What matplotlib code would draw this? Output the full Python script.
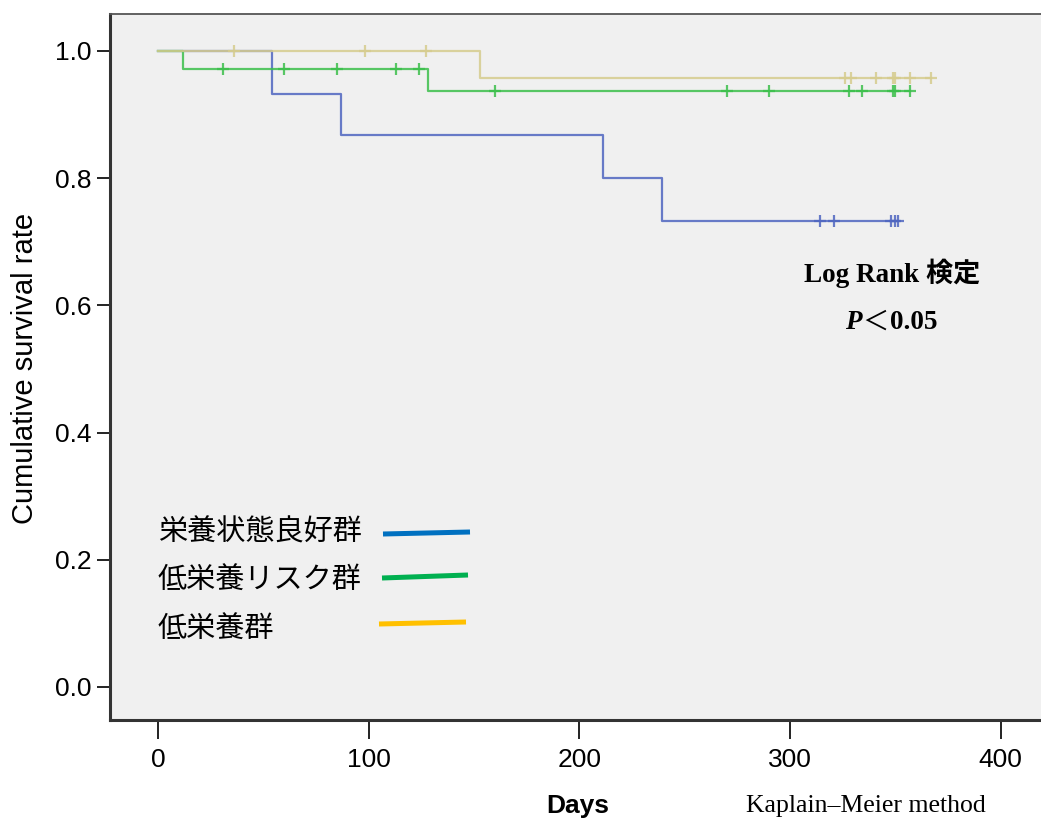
import matplotlib
matplotlib.use("Agg")
import matplotlib.pyplot as plt
import numpy as np
from matplotlib.lines import Line2D

plt.rcParams["font.family"] = ["Liberation Sans", "DejaVu Sans"]

W, H = 1041, 825

# Kaplan-Meier step data (days, survival)
good_times = [0, 54, 87, 211, 239]
good_surv = [1.0, 0.933, 0.867, 0.800, 0.733]
good_censor = [314, 321, 348, 350, 351]
good_end = 351

risk_times = [0, 12, 128]
risk_surv = [1.0, 0.971, 0.937]
risk_censor = [31, 60, 85, 113, 124, 160, 270, 290, 328, 334, 349, 350, 357]
risk_end = 357

low_times = [0, 153]
low_surv = [1.0, 0.958]
low_censor = [36, 98, 127, 326, 329, 341, 349, 350, 357, 367]
low_end = 367

group_labels = ["栄養状態良好群", "低栄養リスク群", "低栄養群"]
x_ticks = [0, 100, 200, 300, 400]
y_ticks = [0.0, 0.2, 0.4, 0.6, 0.8, 1.0]


def px(x, y):
    # pixel position (from top-left) -> figure fraction
    return x / W, 1 - y / H


def draw_km(ax, times, surv, censor, end, color):
    xs = list(times) + [end]
    ys = list(surv) + [surv[-1]]
    ax.plot(xs, ys, drawstyle="steps-post", color=color, lw=1.6, alpha=0.85)
    t = np.asarray(times)
    s = np.asarray(surv)
    cy = s[np.searchsorted(t, censor, side="right") - 1]
    ax.plot(censor, cy, ls="none", marker="+", ms=9, mew=1.6, color=color, alpha=0.85)


fig = plt.figure(figsize=(W / 100, H / 100), dpi=100)
fig.patch.set_facecolor("white")
ax = fig.add_axes([110 / W, (H - 720) / H, (W - 110) / W, (720 - 14) / H])
ax.set_facecolor("#f0f0f0")

draw_km(ax, good_times, good_surv, good_censor, good_end, "#4f66c0")
draw_km(ax, risk_times, risk_surv, risk_censor, risk_end, "#3cbf4c")
draw_km(ax, low_times, low_surv, low_censor, low_end, "#d6cc8e")

ax.set_xlim(-22.8, 419.1)
ax.set_ylim(-0.052, 1.058)
ax.set_xticks(x_ticks)
ax.set_yticks(y_ticks)
ax.set_yticklabels([f"{v:.1f}" for v in y_ticks])
ax.tick_params(axis="y", length=9.5, width=1.4, pad=3.5, labelsize=19, color="#222222")
ax.tick_params(axis="x", length=13.5, width=1.4, pad=7, labelsize=19, color="#222222")

for side in ["left", "bottom"]:
    ax.spines[side].set_linewidth(2.2)
    ax.spines[side].set_color("#333333")
ax.spines["top"].set_linewidth(1.3)
ax.spines["top"].set_color("#555555")
ax.spines["right"].set_visible(False)

# axis titles
fig.text(*px(25, 368), "Cumulative survival rate", rotation=90, fontsize=21,
         ha="center", va="center")
fig.text(*px(578, 806), "Days", fontsize=19, fontweight="bold", ha="center", va="center")
fig.text(*px(866, 806), "Kaplain\u2013Meier method", fontsize=18.5,
         family=["Liberation Serif", "DejaVu Serif"], ha="center", va="center")

# log-rank annotation
fig.text(*px(892, 273), "Log Rank 検定", fontsize=19.5, fontweight="bold",
         family=["Liberation Serif", "Noto Sans CJK JP"], ha="center", va="center")
fig.text(*px(845, 322), "P", fontsize=19.5, fontweight="bold", fontstyle="italic",
         family=["Liberation Serif"], ha="left", va="center")
fig.text(*px(862, 322), "＜", fontsize=19, family=["Noto Sans CJK JP"],
         ha="left", va="center")
fig.text(*px(890, 322), "0.05", fontsize=19.5, fontweight="bold",
         family=["Liberation Serif"], ha="left", va="center")

# hand-drawn style legend
legend_colors = ["#0070c0", "#00b050", "#ffc000"]
legend_text_y = [533, 581, 630]
legend_lines = [((383, 534), (470, 532)), ((382, 578), (468, 575)), ((379, 624), (466, 622))]
for label, ty, color, (p0, p1) in zip(group_labels, legend_text_y, legend_colors, legend_lines):
    fig.text(*px(158, ty), label, fontsize=21, family=["Noto Sans CJK JP"],
             ha="left", va="center")
    a, b = px(*p0), px(*p1)
    fig.add_artist(Line2D([a[0], b[0]], [a[1], b[1]], color=color, lw=3.6,
                          transform=fig.transFigure, solid_capstyle="butt"))

fig.savefig("out.png", dpi=100)
